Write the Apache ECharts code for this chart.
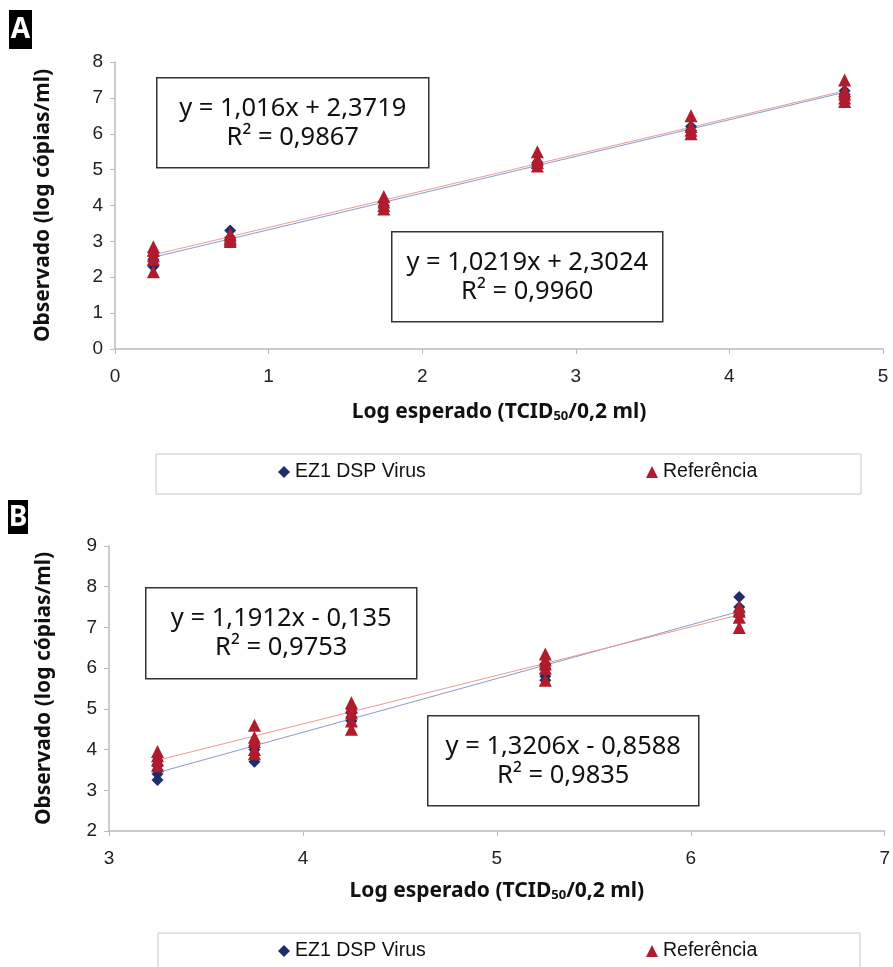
<!DOCTYPE html>
<html><head><meta charset="utf-8">
<script src="https://cdn.jsdelivr.net/npm/echarts@6/dist/echarts.min.js"></script>
<style>html,body{margin:0;padding:0;background:#fff}#c{width:893px;height:967px}</style>
</head><body><div id="c"></div>
<script>
// Panel A
const aX = [0.25, 0.75, 1.75, 2.75, 3.75, 4.75];
const aEZ1 = [[2.3, 2.35, 2.5, 2.6, 2.7], [3.0, 3.1, 3.3], [4.0, 4.1], [5.1, 5.2], [6.1, 6.2], [7.0, 7.1, 7.2]];
const aRef = [[2.15, 2.5, 2.6, 2.75, 2.85], [3.0, 3.05, 3.1, 3.2], [3.9, 4.0, 4.1, 4.25], [5.1, 5.2, 5.3, 5.5], [6.0, 6.1, 6.2, 6.5], [6.9, 7.0, 7.1, 7.2, 7.5]];
const aFitEZ1 = [1.0219, 2.3024];
const aFitRef = [1.016, 2.3719];
const aEqRef = ['y = 1,016x + 2,3719', 'R² = 0,9867'];
const aEqEZ1 = ['y = 1,0219x + 2,3024', 'R² = 0,9960'];
// Panel B
const bX = [3.25, 3.75, 4.25, 5.25, 6.25];
const bEZ1 = [[3.25, 3.4, 3.5, 3.6], [3.7, 4.0, 4.1], [4.7, 4.8, 4.9, 5.0], [5.7, 5.8, 6.0, 6.1], [7.3, 7.4, 7.5, 7.75]];
const bRef = [[3.6, 3.75, 3.85, 3.95], [3.9, 4.0, 4.2, 4.3, 4.6], [4.5, 4.7, 4.9, 5.05, 5.15], [5.7, 6.0, 6.1, 6.2, 6.35], [7.0, 7.25, 7.4, 7.5]];
const bFitEZ1 = [1.3206, -0.8588];
const bFitRef = [1.1912, -0.135];
const bEqRef = ['y = 1,1912x - 0,135', 'R² = 0,9753'];
const bEqEZ1 = ['y = 1,3206x - 0,8588', 'R² = 0,9835'];

const seriesNames = ['EZ1 DSP Virus', 'Referência'];
const yTitle = 'Observado (log cópias/ml)';
const BLUE = '#1f2d6b', RED = '#b01c2c';
const LBLUE = '#8a9ac8', LRED = '#e89a9a';

function pts(xs, vals) { const out = []; xs.forEach((x, i) => vals[i].forEach(v => out.push([x, v]))); return out; }
function fit(xs, c) { const x0 = xs[0], x1 = xs[xs.length - 1]; return [[x0, c[0] * x0 + c[1]], [x1, c[0] * x1 + c[1]]]; }

const tickFont = { color: '#222', fontSize: 19, fontFamily: 'Liberation Sans, Arial, sans-serif' };
const titleFont = { color: '#111', fontSize: 21, fontWeight: 'bold', fontFamily: 'Noto Sans, sans-serif' };
const xName = '{a|Log esperado (TCID}{s|50}{a|/0,2 ml)}';
const xNameStyle = { rich: { a: { fontSize: 21, fontWeight: 'bold', color: '#111', fontFamily: 'Noto Sans, sans-serif' }, s: { fontSize: 13, fontWeight: 'bold', color: '#111', fontFamily: 'Noto Sans, sans-serif', verticalAlign: 'bottom', padding: [9, 0, 0, 0] } } };

function xAxisCfg(gi, min, max, gap) {
  return { gridIndex: gi, type: 'value', min, max, interval: 1, name: xName, nameLocation: 'middle', nameGap: gap, nameTextStyle: xNameStyle,
    axisLine: { lineStyle: { color: '#bbb', width: 1.5 } }, axisTick: { show: true, length: 5, lineStyle: { color: '#bbb' } },
    axisLabel: Object.assign({ margin: 18 }, tickFont), splitLine: { show: false } };
}
function yAxisCfg(gi, min, max, gap) {
  return { gridIndex: gi, type: 'value', min, max, interval: 1, name: yTitle, nameLocation: 'middle', nameGap: gap, nameTextStyle: titleFont,
    axisLine: { show: true, lineStyle: { color: '#bbb', width: 1.5 } }, axisTick: { show: true, length: 5, inside: false, lineStyle: { color: '#bbb' } },
    axisLabel: Object.assign({ margin: 12 }, tickFont), splitLine: { show: false } };
}
function scat(name, gi, data, color, sym, size) {
  return { name, type: 'scatter', xAxisIndex: gi, yAxisIndex: gi, data, symbol: sym, symbolSize: size, itemStyle: { color, opacity: 1 }, z: 3 };
}
function line(name, gi, data, color, pcolor) {
  return { name, type: 'line', xAxisIndex: gi, yAxisIndex: gi, data, symbol: 'none', itemStyle: { color: pcolor }, lineStyle: { color, width: 1 }, z: 2, silent: true };
}
function eqBox(x, y, w, h, lines) {
  return { type: 'group', left: x, top: y, children: [
    { type: 'rect', shape: { x: 0, y: 0, width: w, height: h }, style: { fill: '#fff', stroke: '#333', lineWidth: 1.5 } },
    { type: 'text', x: w / 2, y: h / 2, style: { text: lines.join('\n'), fill: '#111', font: '25.5px "Noto Sans", sans-serif', textAlign: 'center', textVerticalAlign: 'middle', lineHeight: 29 } }
  ] };
}
function tag(x, y, w, h, t) {
  return { type: 'group', left: x, top: y, children: [
    { type: 'rect', shape: { x: 0, y: 0, width: w, height: h }, style: { fill: '#000' } },
    { type: 'text', x: w / 2, y: h / 2 + 1, style: { text: t, fill: '#fff', font: 'bold 28px "Noto Sans", sans-serif', textAlign: 'center', textVerticalAlign: 'middle' } }
  ] };
}
function legendBox(x, y, w, h) {
  return { type: 'rect', left: x, top: y, shape: { x: 0, y: 0, width: w, height: h }, style: { fill: 'none', stroke: '#c8c8c8', lineWidth: 1 }, z: -1 };
}
const legText = { fontSize: 19.5, color: '#111', fontFamily: 'Liberation Sans, sans-serif' };
function leg(name, left, top, icon) {
  return { data: [{ name, icon }], left, top, itemWidth: 12, itemHeight: 12, itemGap: 10, textStyle: legText, selectedMode: false };
}

const option = {
  animation: false,
  grid: [
    { left: 115, top: 62, width: 768, height: 287 },
    { left: 109, top: 546, width: 778, height: 285 }
  ],
  xAxis: [xAxisCfg(0, 0, 5, 52), xAxisCfg(1, 3, 7, 49)],
  yAxis: [yAxisCfg(0, 0, 8, 61), yAxisCfg(1, 2, 9, 54)],
  legend: [
    leg(seriesNames[0], 273, 457, 'diamond'),
    leg(seriesNames[1], 641, 457, 'triangle'),
    leg(seriesNames[0], 273, 936, 'diamond'),
    leg(seriesNames[1], 641, 936, 'triangle')
  ],
  series: [
    scat(seriesNames[0], 0, pts(aX, aEZ1), BLUE, 'diamond', 12),
    scat(seriesNames[1], 0, pts(aX, aRef), RED, 'triangle', 13),
    line(seriesNames[0], 0, fit(aX, aFitEZ1), LBLUE, BLUE),
    line(seriesNames[1], 0, fit(aX, aFitRef), LRED, RED),
    scat(seriesNames[0], 1, pts(bX, bEZ1), BLUE, 'diamond', 12),
    scat(seriesNames[1], 1, pts(bX, bRef), RED, 'triangle', 13),
    line(seriesNames[0], 1, fit(bX, bFitEZ1), LBLUE, BLUE),
    line(seriesNames[1], 1, fit(bX, bFitRef), LRED, RED)
  ],
  graphic: [
    tag(9, 10, 23, 39, 'A'),
    tag(8, 500, 20, 34, 'B'),
    eqBox(156, 77, 272, 90, aEqRef),
    eqBox(391, 231, 271, 90, aEqEZ1),
    eqBox(145, 587, 271, 91, bEqRef),
    eqBox(427, 715, 271, 90, bEqEZ1),
    legendBox(153.5, 451.5, 705, 40),
    legendBox(155.5, 930.5, 702, 50)
  ]
};
const chart = echarts.init(document.getElementById('c'), null, { renderer: 'canvas' });
chart.setOption(option);
</script></body></html>
